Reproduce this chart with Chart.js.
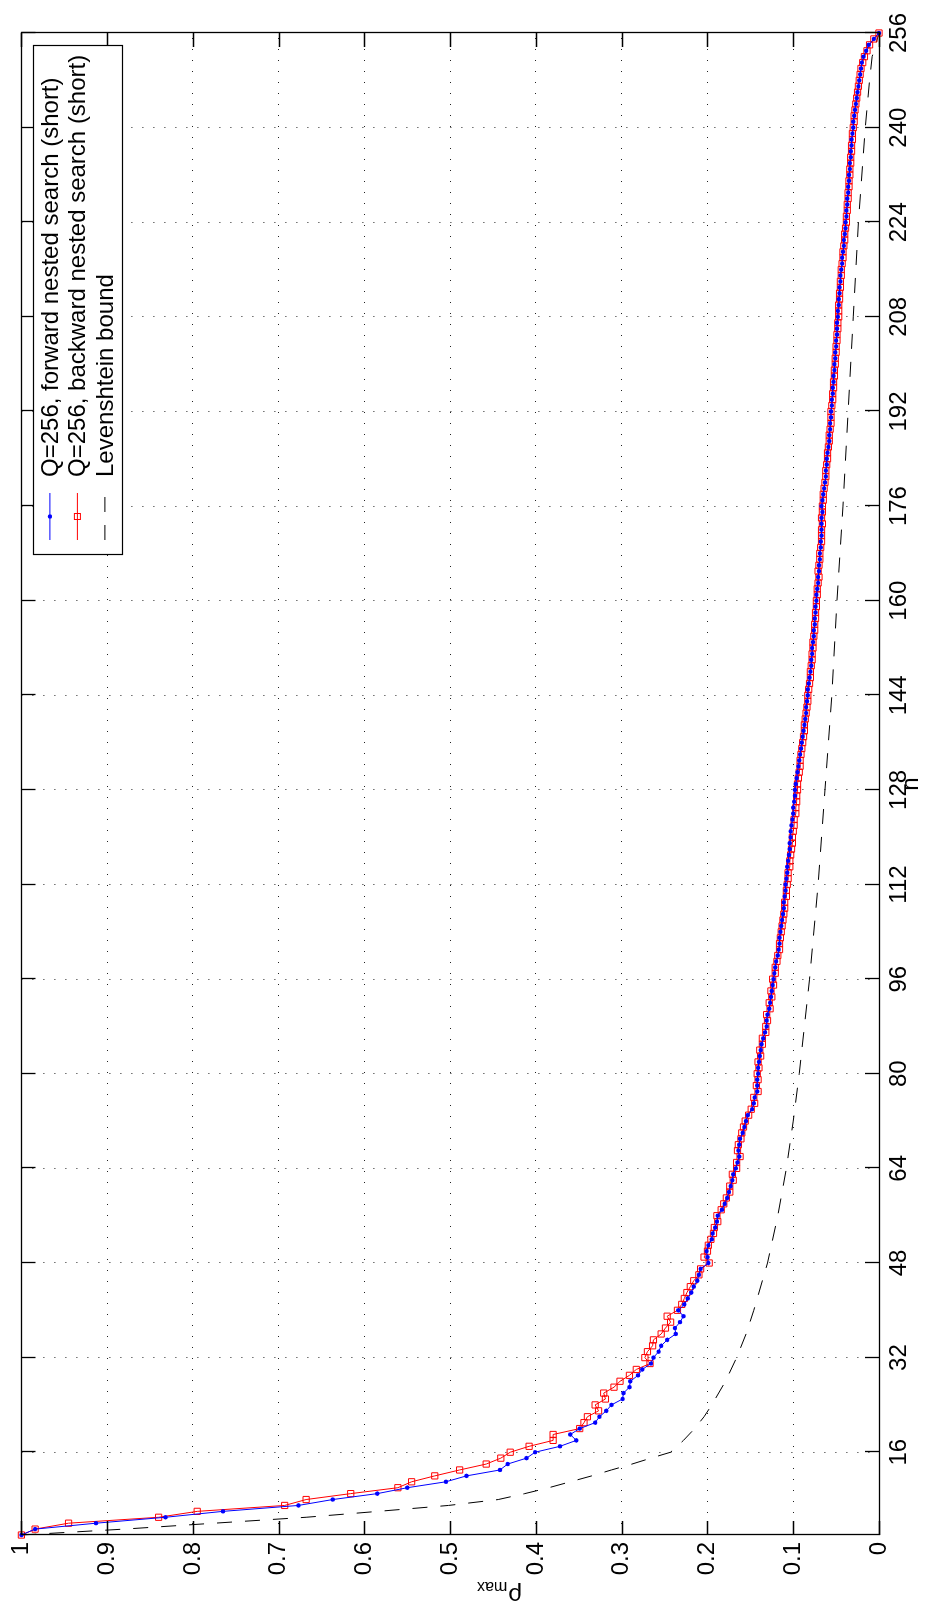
<!DOCTYPE html>
<html>
<head>
<meta charset="utf-8">
<title>rho_max vs n</title>
<script src="https://cdn.jsdelivr.net/npm/chart.js@4.4.1/dist/chart.umd.min.js"></script>
<style>
  html, body { margin: 0; padding: 0; background: #fff; overflow: hidden; }
  /* the figure is printed rotated: draw it landscape, turn it a quarter left */
  #wrap {
    position: absolute; left: 0; top: 0;
    width: 1620px; height: 943px;
    transform-origin: 0 0;
    transform: translateY(1620px) rotate(-90deg);
  }
</style>
</head>
<body>
<div id="wrap"><canvas id="c" width="1620" height="943" style="width:1620px;height:943px"></canvas></div>
<script>
"use strict";

// n runs 2..256
var nFirst = 2;
var nLast = 256;

// rho_max, forward nested search (short), one value per n from 2
var forwardRho = [
  1.000, 0.984, 0.913, 0.832, 0.765, 0.677, 0.637, 0.585, 0.550, 0.505,
  0.481, 0.442, 0.433, 0.411, 0.401, 0.372, 0.353, 0.360, 0.349, 0.331,
  0.326, 0.318, 0.312, 0.299, 0.298, 0.291, 0.290, 0.281, 0.276, 0.266,
  0.263, 0.257, 0.254, 0.247, 0.237, 0.238, 0.232, 0.228, 0.234, 0.227,
  0.223, 0.219, 0.216, 0.212, 0.210, 0.208, 0.199, 0.200, 0.201, 0.199,
  0.195, 0.194, 0.191, 0.189, 0.188, 0.183, 0.180, 0.177, 0.175, 0.173,
  0.171, 0.170, 0.167, 0.165, 0.163, 0.164, 0.163, 0.162, 0.159, 0.157,
  0.155, 0.153, 0.148, 0.146, 0.145, 0.142, 0.142, 0.142, 0.141, 0.141,
  0.140, 0.139, 0.138, 0.137, 0.135, 0.133, 0.131, 0.131, 0.130, 0.128,
  0.127, 0.126, 0.125, 0.124, 0.123, 0.122, 0.121, 0.120, 0.118, 0.117,
  0.116, 0.116, 0.115, 0.114, 0.113, 0.112, 0.111, 0.111, 0.110, 0.109,
  0.109, 0.108, 0.107, 0.107, 0.106, 0.105, 0.104, 0.104, 0.103, 0.103,
  0.102, 0.101, 0.100, 0.100, 0.099, 0.098, 0.098, 0.097, 0.096, 0.095,
  0.094, 0.093, 0.092, 0.091, 0.090, 0.089, 0.088, 0.087, 0.086, 0.085,
  0.085, 0.084, 0.083, 0.083, 0.082, 0.081, 0.080, 0.079, 0.079, 0.078,
  0.078, 0.077, 0.076, 0.076, 0.075, 0.075, 0.074, 0.074, 0.073, 0.073,
  0.072, 0.071, 0.071, 0.070, 0.070, 0.069, 0.069, 0.068, 0.068, 0.067,
  0.067, 0.067, 0.067, 0.066, 0.067, 0.066, 0.065, 0.064, 0.063, 0.062,
  0.062, 0.061, 0.061, 0.060, 0.059, 0.058, 0.058, 0.057, 0.057, 0.056,
  0.056, 0.055, 0.055, 0.054, 0.054, 0.053, 0.053, 0.052, 0.052, 0.051,
  0.051, 0.050, 0.050, 0.049, 0.049, 0.049, 0.048, 0.048, 0.047, 0.047,
  0.046, 0.046, 0.045, 0.045, 0.044, 0.043, 0.043, 0.042, 0.041, 0.041,
  0.040, 0.039, 0.039, 0.038, 0.038, 0.037, 0.037, 0.036, 0.036, 0.035,
  0.035, 0.034, 0.034, 0.033, 0.033, 0.032, 0.032, 0.031, 0.030, 0.030,
  0.029, 0.028, 0.027, 0.026, 0.025, 0.024, 0.023, 0.022, 0.021, 0.020,
  0.018, 0.015, 0.012, 0.006, 0.000
];

// rho_max, backward nested search (short), one value per n from 2
var backwardRho = [
  1.000, 0.984, 0.945, 0.840, 0.795, 0.693, 0.668, 0.616, 0.561, 0.545,
  0.518, 0.489, 0.458, 0.441, 0.430, 0.408, 0.380, 0.380, 0.349, 0.344,
  0.340, 0.327, 0.331, 0.319, 0.321, 0.309, 0.302, 0.291, 0.283, 0.267,
  0.273, 0.270, 0.264, 0.263, 0.254, 0.249, 0.243, 0.247, 0.235, 0.230,
  0.227, 0.224, 0.220, 0.216, 0.210, 0.208, 0.198, 0.204, 0.200, 0.199,
  0.196, 0.193, 0.192, 0.188, 0.189, 0.184, 0.181, 0.178, 0.174, 0.174,
  0.170, 0.171, 0.166, 0.166, 0.162, 0.165, 0.164, 0.161, 0.160, 0.158,
  0.156, 0.152, 0.149, 0.145, 0.146, 0.141, 0.143, 0.141, 0.142, 0.140,
  0.141, 0.138, 0.139, 0.136, 0.136, 0.132, 0.132, 0.130, 0.131, 0.127,
  0.128, 0.125, 0.126, 0.123, 0.124, 0.121, 0.121, 0.119, 0.118, 0.116,
  0.116, 0.115, 0.114, 0.113, 0.112, 0.111, 0.110, 0.110, 0.108, 0.108,
  0.107, 0.106, 0.106, 0.104, 0.104, 0.103, 0.102, 0.101, 0.101, 0.100,
  0.099, 0.099, 0.097, 0.097, 0.096, 0.096, 0.095, 0.095, 0.094, 0.093,
  0.092, 0.092, 0.091, 0.090, 0.089, 0.088, 0.087, 0.087, 0.086, 0.085,
  0.084, 0.083, 0.083, 0.082, 0.081, 0.080, 0.080, 0.079, 0.078, 0.078,
  0.077, 0.077, 0.076, 0.075, 0.075, 0.074, 0.074, 0.073, 0.073, 0.072,
  0.072, 0.071, 0.070, 0.071, 0.070, 0.069, 0.069, 0.068, 0.067, 0.067,
  0.067, 0.066, 0.067, 0.066, 0.066, 0.065, 0.065, 0.064, 0.063, 0.062,
  0.062, 0.061, 0.060, 0.060, 0.059, 0.058, 0.058, 0.057, 0.056, 0.056,
  0.056, 0.055, 0.054, 0.054, 0.053, 0.053, 0.052, 0.052, 0.051, 0.051,
  0.050, 0.050, 0.049, 0.049, 0.048, 0.048, 0.047, 0.047, 0.047, 0.046,
  0.046, 0.045, 0.045, 0.044, 0.044, 0.043, 0.042, 0.042, 0.041, 0.040,
  0.040, 0.039, 0.038, 0.038, 0.037, 0.037, 0.036, 0.036, 0.035, 0.035,
  0.034, 0.034, 0.033, 0.033, 0.032, 0.032, 0.031, 0.031, 0.030, 0.029,
  0.029, 0.028, 0.027, 0.026, 0.025, 0.024, 0.023, 0.022, 0.021, 0.019,
  0.017, 0.014, 0.011, 0.006, 0.000
];

// Levenshtein bound, read at these n
var boundN = [
  2, 3, 4, 5, 6, 7, 8, 9, 10, 11, 12, 13, 14, 15, 16, 18, 20, 22, 24, 28,
  32, 36, 40, 48, 56, 64, 72, 80, 88, 96, 112, 128, 144, 160, 176, 192,
  208, 224, 240, 248, 252, 256
];
var boundRho = [
  1.000, 0.880, 0.775, 0.668, 0.584, 0.502, 0.444, 0.413, 0.385, 0.360,
  0.335, 0.312, 0.288, 0.266, 0.243, 0.228, 0.215, 0.204, 0.195, 0.179,
  0.166, 0.155, 0.146, 0.130, 0.118, 0.108, 0.100, 0.093, 0.087, 0.081,
  0.071, 0.063, 0.055, 0.049, 0.042, 0.036, 0.030, 0.024, 0.016, 0.011,
  0.008, 0.000
];

var nTicks = [16, 32, 48, 64, 80, 96, 112, 128, 144, 160, 176, 192, 208, 224, 240, 256];
var rhoTicks = [0, 0.1, 0.2, 0.3, 0.4, 0.5, 0.6, 0.7, 0.8, 0.9, 1];
var rhoTickLabels = ["0", "0.1", "0.2", "0.3", "0.4", "0.5", "0.6", "0.7", "0.8", "0.9", "1"];

var seriesNames = [
  "Q=256, forward nested search (short)",
  "Q=256, backward nested search (short)",
  "Levenshtein bound"
];

var FONT = '"Liberation Sans", Arial, Helvetica, sans-serif';

function points(xs, ys) {
  return ys.map(function (y, i) { return { x: xs[i], y: y }; });
}

var nAll = [];
for (var k = nFirst; k <= nLast; k++) nAll.push(k);

// axes box with ticks pointing inwards on all four sides
var frameTicks = {
  id: "frameTicks",
  afterDatasetsDraw: function (chart) {
    var ctx = chart.ctx, a = chart.chartArea;
    var xs = chart.scales.x, ys = chart.scales.y;
    var L = 14;
    ctx.save();
    ctx.strokeStyle = "#000";
    ctx.lineWidth = 1.3;
    ctx.beginPath();
    nTicks.forEach(function (v) {
      var px = Math.round(xs.getPixelForValue(v)) + 0.5;
      ctx.moveTo(px, a.bottom); ctx.lineTo(px, a.bottom - L);
      ctx.moveTo(px, a.top); ctx.lineTo(px, a.top + L);
    });
    rhoTicks.forEach(function (v) {
      var py = Math.round(ys.getPixelForValue(v)) + 0.5;
      ctx.moveTo(a.left, py); ctx.lineTo(a.left + L, py);
      ctx.moveTo(a.right, py); ctx.lineTo(a.right - L, py);
    });
    ctx.stroke();
    ctx.strokeRect(Math.round(a.left) + 0.5, Math.round(a.top) + 0.5,
      Math.round(a.right - a.left), Math.round(a.bottom - a.top));
    ctx.restore();
  }
};

// y label: rho with subscript max
var rhoLabel = {
  id: "rhoLabel",
  afterDraw: function (chart) {
    var ctx = chart.ctx;
    var cx = 26, cy = 500;
    ctx.save();
    ctx.translate(cx, cy);
    ctx.rotate(-Math.PI / 2);
    ctx.fillStyle = "#000";
    ctx.textBaseline = "alphabetic";
    ctx.font = "24px " + FONT;
    var w1 = ctx.measureText("\u03c1").width;
    ctx.font = "16px " + FONT;
    var w2 = ctx.measureText("max").width;
    var x0 = -(w1 + w2) / 2;
    ctx.font = "24px " + FONT;
    ctx.fillText("\u03c1", x0, 6);
    ctx.font = "16px " + FONT;
    ctx.fillText("max", x0 + w1 + 1, 12);
    ctx.restore();
  }
};

// boxed legend in the top right corner of the axes
var legendBox = {
  id: "legendBox",
  afterDraw: function (chart) {
    var ctx = chart.ctx, a = chart.chartArea;
    var w = 509, h = 89;
    var x0 = a.right - 13 - w, y0 = a.top + 12;
    var ds = chart.data.datasets;
    ctx.save();
    ctx.fillStyle = "#fff";
    ctx.fillRect(x0, y0, w, h);
    ctx.strokeStyle = "#000";
    ctx.lineWidth = 1.2;
    ctx.strokeRect(Math.round(x0) + 0.5, Math.round(y0) + 0.5, w, h);
    for (var i = 0; i < 3; i++) {
      var y = y0 + 16.5 + i * 27.5;
      var d = ds[i];
      ctx.strokeStyle = d.borderColor;
      ctx.lineWidth = 1;
      ctx.setLineDash(d.borderDash || []);
      ctx.beginPath();
      ctx.moveTo(x0 + 15, y); ctx.lineTo(x0 + 62, y);
      ctx.stroke();
      ctx.setLineDash([]);
      if (i === 0) {
        ctx.fillStyle = d.pointBackgroundColor;
        ctx.beginPath(); ctx.arc(x0 + 38.5, y, 2.2, 0, Math.PI * 2); ctx.fill();
      } else if (i === 1) {
        ctx.strokeStyle = d.pointBorderColor;
        ctx.strokeRect(x0 + 35.5, y - 3, 6, 6);
      }
      ctx.fillStyle = "#000";
      ctx.font = "24px " + FONT;
      ctx.textBaseline = "middle";
      ctx.fillText(seriesNames[i], x0 + 78, y + 1);
    }
    ctx.restore();
  }
};

new Chart(document.getElementById("c"), {
  type: "line",
  data: {
    datasets: [
      {
        label: seriesNames[0],
        data: points(nAll, forwardRho),
        borderColor: "#0000ff",
        borderWidth: 1,
        pointStyle: "circle",
        pointRadius: 2.2,
        pointBorderWidth: 0,
        pointBackgroundColor: "#0000ff",
        tension: 0,
        clip: false
      },
      {
        label: seriesNames[1],
        data: points(nAll, backwardRho),
        borderColor: "#ff0000",
        borderWidth: 1,
        pointStyle: "rect",
        pointRadius: 4.4,
        pointBorderWidth: 1,
        pointBorderColor: "#ff0000",
        pointBackgroundColor: "rgba(0,0,0,0)",
        tension: 0,
        clip: false
      },
      {
        label: seriesNames[2],
        data: points(boundN, boundRho),
        borderColor: "#000000",
        borderWidth: 1,
        borderDash: [15, 13],
        pointRadius: 0,
        tension: 0,
        clip: false
      }
    ]
  },
  options: {
    responsive: false,
    animation: false,
    devicePixelRatio: 1,
    layout: { padding: { top: 18, right: 33, left: 0, bottom: 0 } },
    plugins: {
      legend: { display: false },
      tooltip: { enabled: false }
    },
    scales: {
      x: {
        type: "linear",
        min: nFirst,
        max: nLast,
        afterBuildTicks: function (s) {
          s.ticks = nTicks.map(function (v) { return { value: v }; });
        },
        afterFit: function (s) { s.height = 64; },
        ticks: {
          autoSkip: false,
          maxRotation: 0,
          padding: 6,
          color: "#000",
          font: { family: FONT, size: 24 },
          callback: function (v) { return String(v); }
        },
        grid: { color: "#222", lineWidth: 1, drawTicks: false },
        border: { display: false, dash: [1, 10] },
        title: {
          display: true,
          text: "n",
          color: "#000",
          font: { family: FONT, size: 24 },
          padding: { top: 0, bottom: 17 }
        }
      },
      y: {
        min: 0,
        max: 1,
        afterBuildTicks: function (s) {
          s.ticks = rhoTicks.map(function (v) { return { value: v }; });
        },
        afterFit: function (s) { s.width = 85; },
        ticks: {
          padding: 7,
          color: "#000",
          font: { family: FONT, size: 24 },
          callback: function (v, i) { return rhoTickLabels[i]; }
        },
        grid: { color: "#222", lineWidth: 1, drawTicks: false },
        border: { display: false, dash: [1, 10] }
      }
    }
  },
  plugins: [frameTicks, rhoLabel, legendBox]
});
</script>
</body>
</html>
